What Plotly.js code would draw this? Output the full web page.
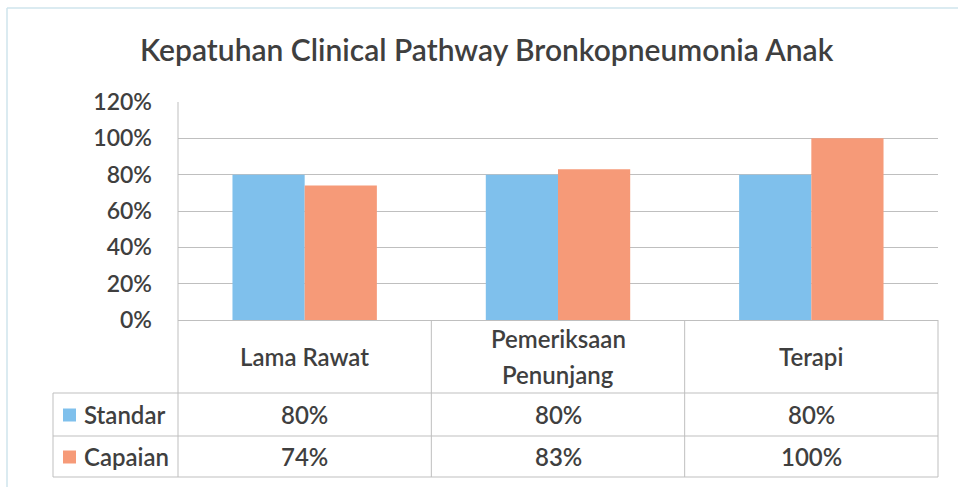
<!DOCTYPE html>
<html>
<head>
<meta charset="utf-8">
<script src="https://cdn.plot.ly/plotly-3.0.1.min.js"></script>
<style>
  html, body { margin: 0; padding: 0; background: #ffffff; }
  #chart { width: 958px; height: 487px; }
</style>
</head>
<body>
<div id="chart"></div>
<script>
// ---- data ----
const categories = ["Lama Rawat", "Pemeriksaan Penunjang", "Terapi"];
const categoryLabelLines = [["Lama Rawat"], ["Pemeriksaan", "Penunjang"], ["Terapi"]];
const seriesNames = ["Standar", "Capaian"];
const standar = [0.80, 0.80, 0.80];
const capaian = [0.74, 0.83, 1.00];
const yTickValues = [0, 0.2, 0.4, 0.6, 0.8, 1.0, 1.2];
const chartTitle = "Kepatuhan Clinical Pathway Bronkopneumonia Anak";

// ---- styling ----
const FONT = "Lato, 'Open Sans', sans-serif";
const TEXT = "#3f3f3f";
const GRID = "#bfbfbf";
const colors = ["#7fc0ec", "#f69a78"];
const seriesValues = [standar, capaian];
const TXT_FONT = { family: FONT, size: 24, color: TEXT, weight: 600 };

// geometry (pixels)
const W = 958, H = 487;
const mL = 178, mR = 20, mT = 102, mB = 167;
const plotH = H - mT - mB;
const pyToPaper = py => (H - mB - py) / plotH;
const pxToPaper = px => (px - mL) / (W - mL - mR);

const rowTops = [320, 393, 436, 477]; // header row / standar / capaian boundaries
const legendLeft = 53;

const traces = seriesNames.map((name, i) => ({
  type: "bar",
  name: name,
  x: categories,
  y: seriesValues[i],
  marker: { color: colors[i], line: { width: 0 } },
  hoverinfo: "x+y+name"
}));

const shapes = [];
const annotations = [];
const n = categories.length;
const line = { color: GRID, width: 1 };

// vertical table lines at category boundaries
for (let k = 0; k <= n; k++) {
  shapes.push({ type: "line", xref: "paper", yref: "paper",
    x0: k / n, x1: k / n, y0: pyToPaper(rowTops[0]), y1: pyToPaper(rowTops[3]), line });
}
// horizontal table lines
[1, 2, 3].forEach(r => {
  shapes.push({ type: "line", xref: "paper", yref: "paper",
    x0: pxToPaper(legendLeft), x1: 1, y0: pyToPaper(rowTops[r]), y1: pyToPaper(rowTops[r]), line });
});
// left border of legend column
shapes.push({ type: "line", xref: "paper", yref: "paper",
  x0: pxToPaper(legendLeft), x1: pxToPaper(legendLeft),
  y0: pyToPaper(rowTops[1]), y1: pyToPaper(rowTops[3]), line });
// y-axis line up to plot top
shapes.push({ type: "line", xref: "paper", yref: "paper",
  x0: 0, x1: 0, y0: 0, y1: 1, line });

// outer chart border (top & left, light blue)
shapes.push({ type: "line", xref: "paper", yref: "paper",
  x0: pxToPaper(7), x1: pxToPaper(958), y0: pyToPaper(8), y1: pyToPaper(8),
  line: { color: "#cfe4ec", width: 1.5 } });
shapes.push({ type: "line", xref: "paper", yref: "paper",
  x0: pxToPaper(7), x1: pxToPaper(7), y0: pyToPaper(8), y1: pyToPaper(487),
  line: { color: "#cfe4ec", width: 1.5 } });

// category header labels (each line placed separately, 36px apart)
const headerMid = (rowTops[0] + rowTops[1]) / 2;
const lineStep = 36;
categories.forEach((c, i) => {
  const lines = categoryLabelLines[i];
  lines.forEach((txt, j) => {
    const py = headerMid + (j - (lines.length - 1) / 2) * lineStep;
    annotations.push({ xref: "x", yref: "paper", x: c, y: pyToPaper(py),
      text: txt, showarrow: false, xanchor: "center", yanchor: "middle", font: TXT_FONT });
  });
});

// value rows and legend keys
seriesNames.forEach((name, s) => {
  const ySq = (rowTops[s + 1] + rowTops[s + 2]) / 2;
  const yMid = pyToPaper(ySq);
  shapes.push({ type: "rect", xref: "paper", yref: "paper",
    x0: pxToPaper(63), x1: pxToPaper(76), y0: pyToPaper(ySq - 6), y1: pyToPaper(ySq + 7),
    fillcolor: colors[s], line: { width: 0 } });
  annotations.push({ xref: "paper", yref: "paper", x: pxToPaper(82), y: yMid,
    text: name, showarrow: false, xanchor: "left", yanchor: "middle", font: TXT_FONT });
  categories.forEach((c, i) => {
    annotations.push({ xref: "x", yref: "paper", x: c, y: yMid,
      text: Math.round(seriesValues[s][i] * 100) + "%", showarrow: false,
      xanchor: "center", yanchor: "middle", font: TXT_FONT });
  });
});

const layout = {
  width: W, height: H,
  margin: { l: mL, r: mR, t: mT, b: mB, pad: 0 },
  paper_bgcolor: "#ffffff",
  plot_bgcolor: "#ffffff",
  showlegend: false,
  barmode: "group",
  bargap: 0.43,
  bargroupgap: 0,
  title: { text: chartTitle, x: 0.508, xanchor: "center", y: 1 - 50 / H, yanchor: "middle",
    font: { family: FONT, size: 30, color: TEXT, weight: 600 } },
  xaxis: { showticklabels: false, showgrid: false, zeroline: false, showline: false,
    ticks: "", fixedrange: true },
  yaxis: { range: [0, 1.2], tickvals: yTickValues, tickformat: ".0%",
    showgrid: true, gridcolor: GRID, gridwidth: 1, zeroline: true, zerolinecolor: GRID,
    zerolinewidth: 1, showline: false, ticks: "", ticklabelstandoff: 25,
    tickfont: { family: FONT, size: 23, color: TEXT, weight: 600 }, fixedrange: true },
  shapes, annotations
};

Plotly.newPlot("chart", traces, layout, { displayModeBar: false, staticPlot: true });
</script>
</body>
</html>
